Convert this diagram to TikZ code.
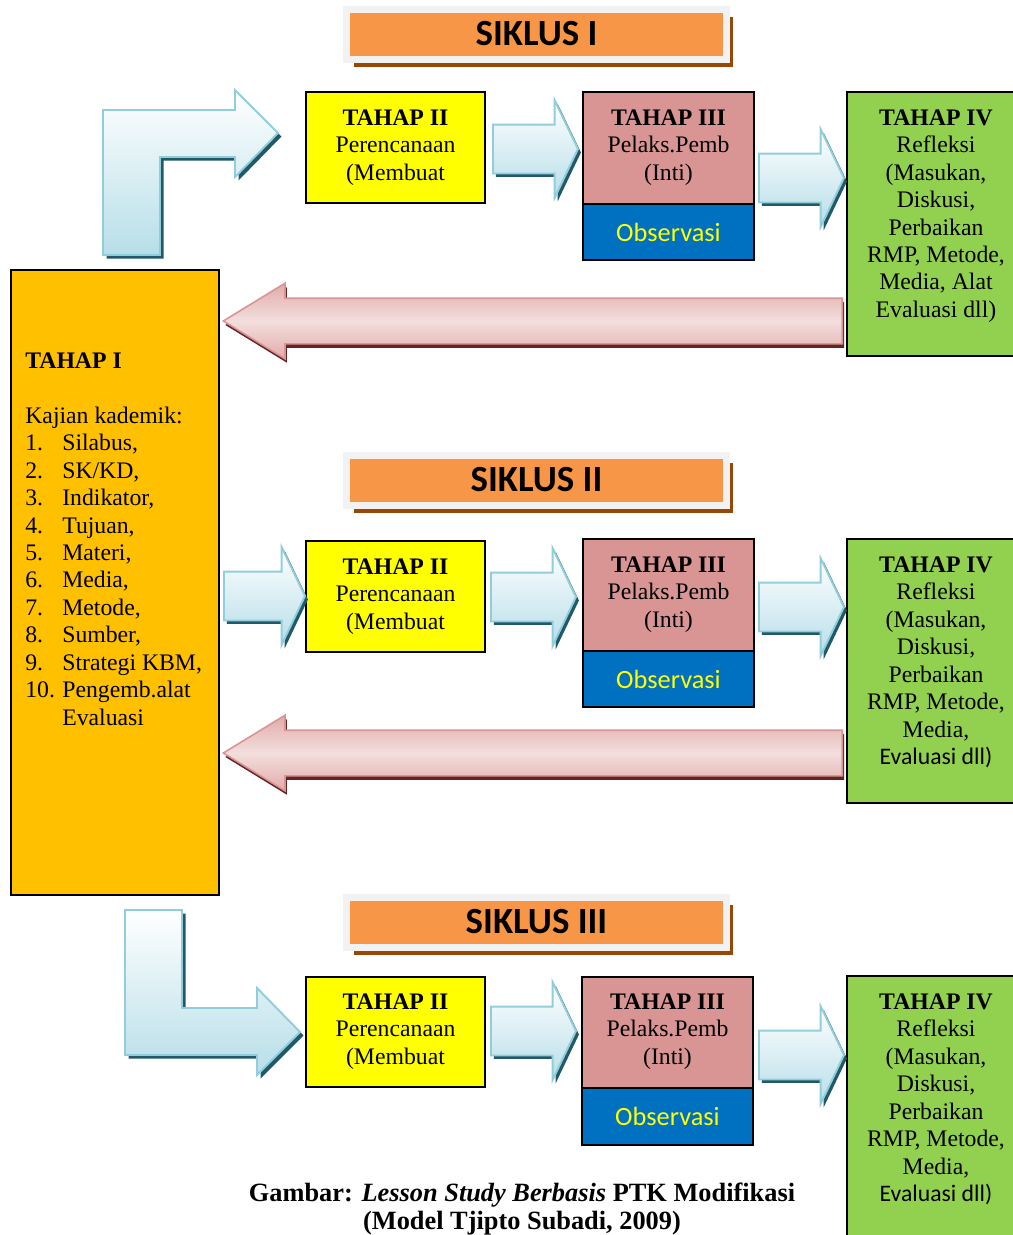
\documentclass[tikz,border=0pt]{standalone}
\usepackage{fontspec}
\setmainfont{Liberation Serif}
\newfontfamily\calibri{Carlito}
\usetikzlibrary{shapes.arrows,shadows,positioning}

\definecolor{kuning}{HTML}{FFFF00}
\definecolor{merahmuda}{HTML}{D99594}
\definecolor{biruobs}{HTML}{0070C0}
\definecolor{hijau}{HTML}{92D050}
\definecolor{jingga}{HTML}{FFC000}
\definecolor{oranye}{HTML}{F79646}
\definecolor{abu}{HTML}{F2F2F2}
\definecolor{coklat}{HTML}{974706}
\definecolor{birugaris}{HTML}{92CDDC}
\definecolor{birumuda}{HTML}{B7DEE8}
\definecolor{birutua}{HTML}{215968}
\definecolor{pinkgaris}{HTML}{D99594}
\definecolor{pinktepi}{HTML}{E2ABAA}
\definecolor{pinkmuda}{HTML}{F2DEDD}
\definecolor{merahtua}{HTML}{632523}

\tikzset{
    kotak/.style={draw=black, line width=0.9pt, rectangle, inner sep=0},
    teks/.style={align=center, inner sep=0, anchor=north, font=\fontsize{13.5}{15.65}\selectfont},
    judul/.style={fill=oranye, draw=abu, line width=0.14cm, minimum width=7.6cm, minimum height=1.0cm,
        inner sep=0, font=\calibri\bfseries\fontsize{21}{25}\selectfont,
        general shadow={fill=coklat, shadow xshift=0.14cm, shadow yshift=-0.16cm}},
    panah/.style={single arrow, draw=birugaris, line width=1.1pt, top color=white, bottom color=birumuda,
        minimum height=1.7cm, inner xsep=0, inner ysep=0.47cm, single arrow head extend=0.49cm,
        single arrow tip angle=129, anchor=tail,
        general shadow={fill=birutua, shadow xshift=0.06cm, shadow yshift=-0.07cm}},
    panahbalik/.style={single arrow, shape border rotate=180, draw=pinkgaris, line width=0.9pt,
        top color=pinktepi, bottom color=pinktepi, middle color=pinkmuda,
        minimum height=12.38cm, inner xsep=0, inner ysep=0.44cm, single arrow head extend=0.3cm,
        single arrow tip angle=63, anchor=tail,
        general shadow={fill=merahtua, shadow xshift=0.04cm, shadow yshift=-0.08cm}},
    panahbelok/.style={draw=birugaris, line width=1.1pt, top color=white, bottom color=birumuda,
        general shadow={fill=birutua, shadow xshift=0.07cm, shadow yshift=-0.07cm}}
}

\begin{document}
\begin{tikzpicture}[x=0.02cm, y=-0.02cm]
    \useasboundingbox (0,0) rectangle (1013,1235);

    % judul siklus
    \node[judul] (siklus1) at (536.5,34) {SIKLUS I};
    \node[judul] (siklus2) at (536.5,480) {SIKLUS II};
    \node[judul] (siklus3) at (536.5,922) {SIKLUS III};

    % tahap I
    \node[kotak, fill=jingga, minimum width=4.16cm, minimum height=12.5cm] (tahap1) at (115,582.5) {};
    \node[teks, align=left, anchor=north west] (tahap1isi) at (25,352) {\textbf{TAHAP I}\\ \mbox{}\\ Kajian kademik:\\
        \makebox[0.74cm][l]{1.}Silabus,\\
        \makebox[0.74cm][l]{2.}SK/KD,\\
        \makebox[0.74cm][l]{3.}Indikator,\\
        \makebox[0.74cm][l]{4.}Tujuan,\\
        \makebox[0.74cm][l]{5.}Materi,\\
        \makebox[0.74cm][l]{6.}Media,\\
        \makebox[0.74cm][l]{7.}Metode,\\
        \makebox[0.74cm][l]{8.}Sumber,\\
        \makebox[0.74cm][l]{9.}Strategi KBM,\\
        \makebox[0.74cm][l]{10.}Pengemb.alat\\
        \hspace*{0.74cm}Evaluasi};

    % siklus I
    \node[kotak, fill=kuning, minimum width=3.58cm, minimum height=2.22cm] (tahap2a) at (395.5,147.5) {};
    \node[teks] (tahap2aisi) at (395.5,109) {\textbf{TAHAP II}\\Perencanaan\\(Membuat};
    \node[kotak, fill=merahmuda, minimum width=3.42cm, minimum height=2.24cm] (tahap3a) at (668.5,148) {};
    \node[teks] (tahap3aisi) at (668.5,109) {\textbf{TAHAP III}\\Pelaks.Pemb\\(Inti)};
    \node[kotak, fill=biruobs, minimum width=3.42cm, minimum height=1.12cm, text=kuning,
        font=\calibri\fontsize{15}{18}\selectfont] (obs1) at (668.5,232) {Observasi};
    \node[kotak, fill=hijau, minimum width=3.56cm, minimum height=5.28cm] (tahap4a) at (936,224) {};
    \node[teks] (tahap4aisi) at (936,109) {\textbf{TAHAP IV}\\Refleksi\\(Masukan,\\Diskusi,\\Perbaikan\\RMP, Metode,\\Media, Alat\\Evaluasi dll)};

    % siklus II
    \node[kotak, fill=kuning, minimum width=3.58cm, minimum height=2.22cm] (tahap2b) at (395.5,596.5) {};
    \node[teks] (tahap2bisi) at (395.5,558) {\textbf{TAHAP II}\\Perencanaan\\(Membuat};
    \node[kotak, fill=merahmuda, minimum width=3.42cm, minimum height=2.24cm] (tahap3b) at (668.5,595) {};
    \node[teks] (tahap3bisi) at (668.5,556) {\textbf{TAHAP III}\\Pelaks.Pemb\\(Inti)};
    \node[kotak, fill=biruobs, minimum width=3.42cm, minimum height=1.12cm, text=kuning,
        font=\calibri\fontsize{15}{18}\selectfont] (obs2) at (668.5,679) {Observasi};
    \node[kotak, fill=hijau, minimum width=3.56cm, minimum height=5.28cm] (tahap4b) at (936,671) {};
    \node[teks] (tahap4bisi) at (936,556) {\textbf{TAHAP IV}\\Refleksi\\(Masukan,\\Diskusi,\\Perbaikan\\RMP, Metode,\\Media,\\{\calibri Evaluasi dll)}};

    % siklus III
    \node[kotak, fill=kuning, minimum width=3.58cm, minimum height=2.2cm] (tahap2c) at (395.5,1032) {};
    \node[teks] (tahap2cisi) at (395.5,993) {\textbf{TAHAP II}\\Perencanaan\\(Membuat};
    \node[kotak, fill=merahmuda, minimum width=3.42cm, minimum height=2.22cm] (tahap3c) at (667.5,1032.5) {};
    \node[teks] (tahap3cisi) at (667.5,993) {\textbf{TAHAP III}\\Pelaks.Pemb\\(Inti)};
    \node[kotak, fill=biruobs, minimum width=3.42cm, minimum height=1.14cm, text=kuning,
        font=\calibri\fontsize{15}{18}\selectfont] (obs3) at (667.5,1116.5) {Observasi};
    \node[kotak, fill=hijau, minimum width=3.56cm, minimum height=5.28cm] (tahap4c) at (936,1108) {};
    \node[teks] (tahap4cisi) at (936,993) {\textbf{TAHAP IV}\\Refleksi\\(Masukan,\\Diskusi,\\Perbaikan\\RMP, Metode,\\Media,\\{\calibri Evaluasi dll)}};

    % panah lurus
    \node[panah] (panah1a) at (492,149) {};
    \node[panah] (panah1b) at (758,178) {};
    \node[panah, minimum height=1.62cm] (panah2a) at (223,596) {};
    \node[panah] (panah2b) at (490,597) {};
    \node[panah] (panah2c) at (758,607) {};
    \node[panah] (panah3b) at (490,1031) {};
    \node[panah] (panah3c) at (758,1055) {};

    % panah balik
    \node[panahbalik] (balik1) at (843,321) {};
    \node[panahbalik] (balik2) at (843,753) {};

    % panah belok
    \draw[panahbelok] (103,255) -- (103,110) -- (235,110) -- (235,90) -- (278,133)
        -- (235,177) -- (235,157) -- (160,157) -- (160,255) -- cycle;
    \draw[panahbelok] (125,910) -- (182,910) -- (182,1008) -- (257,1008) -- (257,988)
        -- (300,1032) -- (257,1075) -- (257,1055) -- (125,1055) -- cycle;

    % keterangan
    \node[teks, font=\bfseries\fontsize{15}{15.9}\selectfont] (gambar) at (522,1183)
        {Gambar: \textit{Lesson Study Berbasis} PTK Modifikasi\\(Model Tjipto Subadi, 2009)};
\end{tikzpicture}
\end{document}
